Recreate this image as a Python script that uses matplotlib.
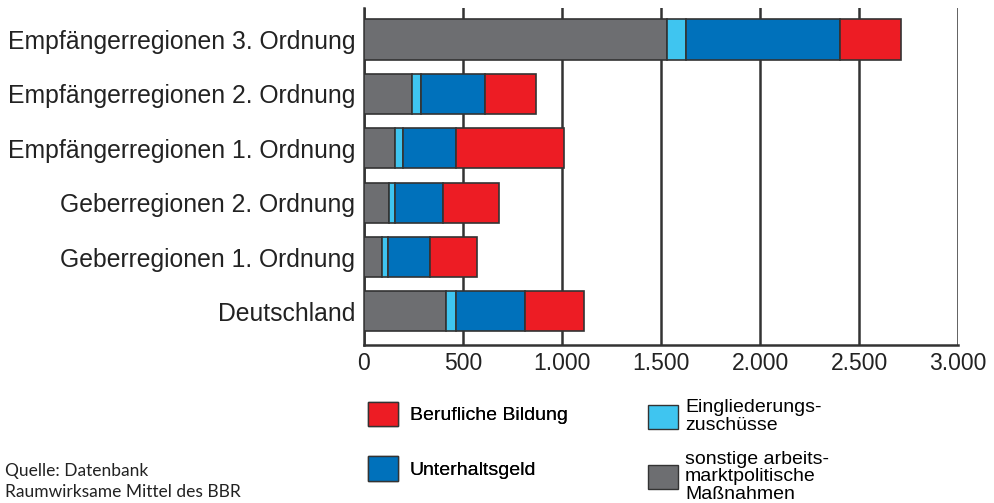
import matplotlib
matplotlib.use("Agg")
import matplotlib.pyplot as plt
from matplotlib.patches import Patch

# categories, bottom to top
regions = ["Deutschland", "Geberregionen 1. Ordnung", "Geberregionen 2. Ordnung",
           "Empfängerregionen 1. Ordnung", "Empfängerregionen 2. Ordnung",
           "Empfängerregionen 3. Ordnung"]

# stacked segments, left to right
sonstige = [416, 91, 126, 157, 244, 1530]
eingliederung = [47, 29, 32, 40, 43, 94]
unterhalt = [352, 213, 241, 269, 325, 779]
beruflich = [294, 239, 285, 544, 258, 306]

x_ticks = [0, 500, 1000, 1500, 2000, 2500, 3000]
x_labels = ["0", "500", "1.000", "1.500", "2.000", "2.500", "3.000"]

c_gray = "#6d6e71"
c_cyan = "#3fc5f0"
c_blue = "#0071bb"
c_red = "#ed1c24"
edge = "#333333"

fig = plt.figure(figsize=(9.94, 5.03), dpi=100)
ax = fig.add_axes([0.366, 0.314, 0.598, 0.67])

y = range(len(regions))
h = 0.74
left = [0] * len(regions)
for vals, col in [(sonstige, c_gray), (eingliederung, c_cyan), (unterhalt, c_blue), (beruflich, c_red)]:
    ax.barh(y, vals, left=left, height=h, color=col, edgecolor=edge, linewidth=1.2, zorder=3)
    left = [a + b for a, b in zip(left, vals)]

ax.set_xlim(0, 3000)
ax.set_ylim(-0.62, 5.58)
ax.set_xticks(x_ticks)
ax.set_xticklabels(x_labels, family="Liberation Sans", fontsize=16.5, color="#222222")
ax.set_yticks(list(y))
ax.set_yticklabels(regions, family="Liberation Sans", fontsize=17.8, color="#222222")
ax.tick_params(length=0, pad=6)
ax.tick_params(axis="x", pad=5)
ax.grid(axis="x", color=edge, linewidth=1.8, zorder=0)
for s in ["top", "right"]:
    ax.spines[s].set_visible(False)
for s in ["left", "bottom"]:
    ax.spines[s].set_color(edge)
    ax.spines[s].set_linewidth(1.8)

# legend
fs = 14
box = dict(handlelength=1.55, handleheight=1.55, borderpad=0, borderaxespad=0, frameon=False)
handles1 = [Patch(facecolor=c_red, edgecolor=edge), Patch(facecolor=c_blue, edgecolor=edge)]
leg1 = fig.legend(handles1, ["Berufliche Bildung", "Unterhaltsgeld"], loc="upper left",
                  bbox_to_anchor=(0.370, 0.201), labelspacing=1.55, handletextpad=0.6,
                  prop={"family": "Liberation Sans", "size": fs}, **box)
handles2 = [Patch(facecolor=c_cyan, edgecolor=edge), Patch(facecolor=c_gray, edgecolor=edge)]
leg2 = fig.legend(handles2, ["Eingliederungs-\nzuschüsse", "sonstige arbeits-\nmarktpolitische\nMaßnahmen"],
                  loc="upper left", bbox_to_anchor=(0.652, 0.206), labelspacing=0.85, handletextpad=0.35,
                  prop={"family": "Liberation Sans", "size": fs}, **box)
for t in leg2.get_texts():
    t.set_linespacing(1.05)
fig.add_artist(leg1)

fig.text(0.005, 0.006, "Quelle: Datenbank\nRaumwirksame Mittel des BBR", family="Lato",
         fontsize=12.5, color="#222222", ha="left", va="bottom", linespacing=1.35)

fig.savefig("out.png", dpi=100)
